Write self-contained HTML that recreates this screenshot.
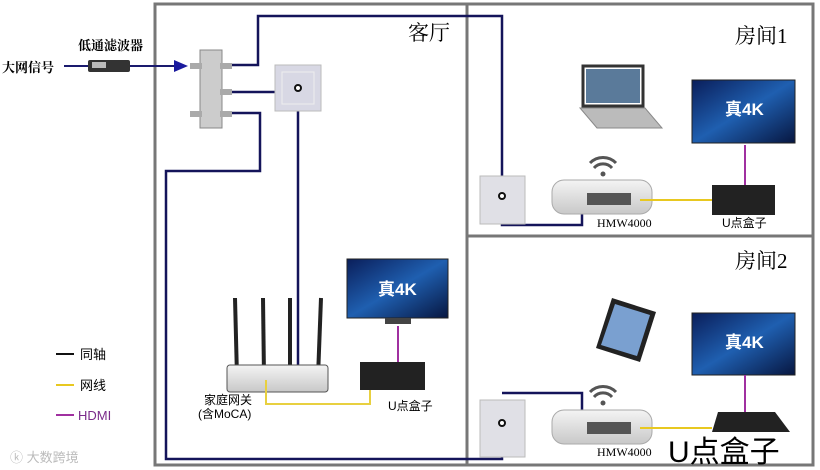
<!DOCTYPE html>
<html><head><meta charset="utf-8"><style>
html,body{margin:0;padding:0;background:#fff;}
svg{display:block;font-family:"Liberation Serif","Noto Serif CJK SC",serif;}
.s{font-family:"Liberation Sans","Noto Sans CJK SC",sans-serif;}
</style></head><body>
<svg width="820" height="470" viewBox="0 0 820 470" xmlns="http://www.w3.org/2000/svg">
<defs>
<linearGradient id="tv" x1="0" y1="0" x2="1" y2="1"><stop offset="0" stop-color="#0a1e5a"/><stop offset="0.5" stop-color="#1f5fb0"/><stop offset="1" stop-color="#071640"/></linearGradient>
<linearGradient id="rt" x1="0" y1="0" x2="0" y2="1"><stop offset="0" stop-color="#f4f4f4"/><stop offset="1" stop-color="#c8c8c8"/></linearGradient>
</defs>
<!-- frames -->
<rect x="155" y="4" width="658" height="461" fill="none" stroke="#777" stroke-width="3"/>
<line x1="467" y1="4" x2="467" y2="465" stroke="#777" stroke-width="3"/>
<line x1="467" y1="236" x2="813" y2="236" stroke="#777" stroke-width="3"/>
<!-- titles -->
<text x="408" y="40" font-size="21">客厅</text>
<text x="735" y="43" font-size="21">房间1</text>
<text x="735" y="268" font-size="21">房间2</text>
<!-- input -->
<text x="2" y="72" font-size="13" font-weight="bold">大网信号</text>
<text x="78" y="50" font-size="13" font-weight="bold">低通滤波器</text>
<line x1="64" y1="66" x2="178" y2="66" stroke="#1a1a6e" stroke-width="2"/>
<polygon points="174,60 188,66 174,72" fill="#1a1a9e"/>
<rect x="88" y="60" width="42" height="12" rx="2" fill="#333"/><rect x="92" y="62" width="14" height="6" fill="#bbb"/>
<!-- splitter -->
<rect x="200" y="50" width="22" height="78" fill="#ccc" stroke="#888"/>
<rect x="190" y="63" width="12" height="6" fill="#aaa"/><rect x="220" y="63" width="12" height="6" fill="#aaa"/>
<rect x="220" y="89" width="12" height="6" fill="#aaa"/><rect x="220" y="111" width="12" height="6" fill="#aaa"/><rect x="190" y="111" width="12" height="6" fill="#aaa"/>
<g fill="none" stroke="#14145a" stroke-width="2.5">
<polyline points="232,65 258,65 258,16 502,16 502,196"/>
<polyline points="232,92 276,92"/>
<polyline points="232,113 260,113 260,171 166,171 166,459 502,459 502,423"/>
<polyline points="298,88 298,380"/>
<polyline points="502,196 502,225 582,225 582,197"/>
<polyline points="502,393 582,393 582,423"/>
</g>
<!-- living plate -->
<rect x="275" y="65" width="46" height="46" fill="#d8d8e4" stroke="#bbb"/><rect x="282" y="72" width="32" height="32" fill="none" stroke="#eee"/>
<circle cx="298" cy="88" r="3" fill="#fff" stroke="#111" stroke-width="2"/>
<!-- room plates -->
<rect x="480" y="176" width="45" height="48" fill="#e0e0e6" stroke="#bbb"/><circle cx="502" cy="196" r="3" fill="#fff" stroke="#111" stroke-width="2"/>
<rect x="480" y="400" width="45" height="57" fill="#e0e0e6" stroke="#bbb"/><circle cx="502" cy="423" r="3" fill="#fff" stroke="#111" stroke-width="2"/>
<!-- gateway -->
<g stroke="#222" stroke-width="4"><line x1="235" y1="298" x2="237" y2="377"/><line x1="263" y1="298" x2="264" y2="377"/><line x1="290" y1="298" x2="290" y2="377"/><line x1="321" y1="298" x2="318" y2="377"/></g>
<rect x="227" y="365" width="101" height="27" rx="3" fill="url(#rt)" stroke="#555"/>
<text x="204" y="404" font-size="12" class="s">家庭网关</text>
<text x="198" y="418" font-size="12" class="s">(含MoCA)</text>
<polyline points="266,380 266,404 370,404 370,380" fill="none" stroke="#e8d040" stroke-width="2"/>
<!-- living TV -->
<rect x="347" y="259" width="101" height="59" fill="url(#tv)" stroke="#222"/>
<text x="378" y="295" font-size="17" font-weight="bold" fill="#fff" class="s">真4K</text>
<rect x="385" y="318" width="26" height="6" fill="#444"/>
<line x1="398" y1="326" x2="398" y2="362" stroke="#a030a0" stroke-width="2"/>
<rect x="360" y="362" width="65" height="28" fill="#222"/>
<text x="388" y="410" font-size="12" class="s">U点盒子</text>
<!-- legend -->
<line x1="56" y1="354" x2="74" y2="354" stroke="#111" stroke-width="2"/><text x="80" y="359" font-size="13" class="s">同轴</text>
<line x1="56" y1="385" x2="74" y2="385" stroke="#e8c820" stroke-width="2"/><text x="80" y="390" font-size="13" class="s">网线</text>
<line x1="56" y1="415" x2="74" y2="415" stroke="#a030a0" stroke-width="2"/><text x="78" y="420" font-size="13" fill="#7a2a8a" class="s">HDMI</text>
<text x="10" y="462" font-size="13" fill="#bbb" class="s">ⓚ 大数跨境</text>
<!-- room1 -->
<rect x="583" y="66" width="60" height="40" fill="#fff" stroke="#333" stroke-width="3"/><rect x="586" y="69" width="54" height="34" fill="#5a7a9a"/>
<polygon points="580,108 645,108 662,128 597,128" fill="#bbb" stroke="#888"/>
<rect x="692" y="80" width="103" height="63" fill="url(#tv)" stroke="#222"/>
<text x="725" y="115" font-size="17" font-weight="bold" fill="#fff" class="s">真4K</text>
<line x1="745" y1="145" x2="745" y2="185" stroke="#a030a0" stroke-width="2"/>
<rect x="712" y="185" width="63" height="30" fill="#222"/>
<path d="M590,163 a18,18 0 0 1 26,0 M594,168 a12,12 0 0 1 18,0" fill="none" stroke="#555" stroke-width="3"/><circle cx="603" cy="174" r="2.5" fill="#555"/>
<rect x="552" y="180" width="100" height="34" rx="12" fill="url(#rt)" stroke="#aaa"/>
<rect x="587" y="193" width="44" height="12" fill="#555"/>
<line x1="640" y1="200" x2="712" y2="200" stroke="#e8c820" stroke-width="2"/>
<text x="597" y="227" font-size="12">HMW4000</text>
<text x="722" y="227" font-size="12" class="s">U点盒子</text>
<!-- room2 -->
<polygon points="612,298 656,312 640,362 596,348" fill="#222"/><polygon points="615,304 650,315 637,356 601,345" fill="#7aa0d0"/>
<rect x="692" y="313" width="103" height="62" fill="url(#tv)" stroke="#222"/>
<text x="725" y="348" font-size="17" font-weight="bold" fill="#fff" class="s">真4K</text>
<line x1="745" y1="375" x2="745" y2="412" stroke="#a030a0" stroke-width="2"/>
<polygon points="718,412 775,412 790,432 712,432" fill="#222"/>
<path d="M590,392 a18,18 0 0 1 26,0 M594,397 a12,12 0 0 1 18,0" fill="none" stroke="#555" stroke-width="3"/><circle cx="603" cy="403" r="2.5" fill="#555"/>
<rect x="552" y="410" width="100" height="34" rx="12" fill="url(#rt)" stroke="#aaa"/>
<rect x="587" y="422" width="44" height="12" fill="#555"/>
<line x1="640" y1="428" x2="712" y2="428" stroke="#e8c820" stroke-width="2"/>
<text x="597" y="456" font-size="12">HMW4000</text>
<text x="668" y="462" font-size="30" class="s">U点盒子</text>
</svg>
</body></html>
